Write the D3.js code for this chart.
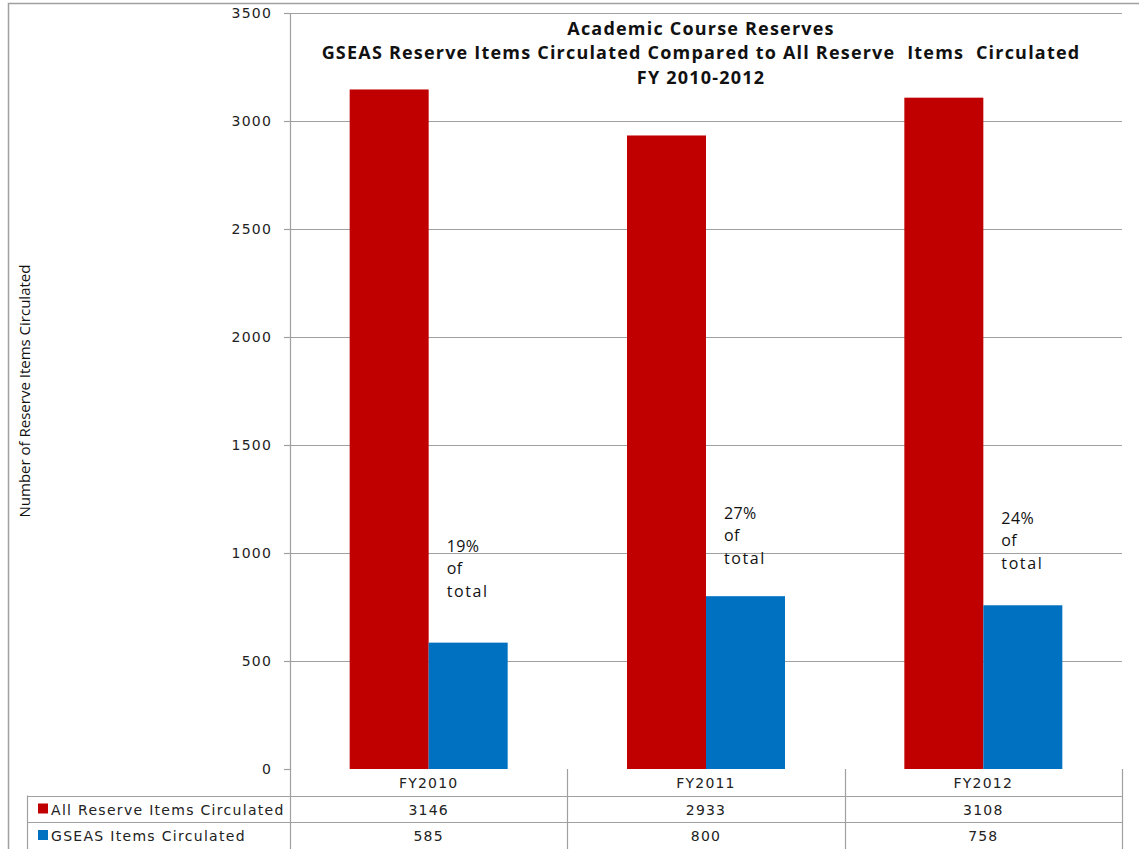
<!DOCTYPE html>
<html>
<head>
<meta charset="utf-8">
<script src="https://cdn.jsdelivr.net/npm/d3@7"></script>
<style>
  body { margin: 0; background: #fff; }
  svg { display: block; }
</style>
</head>
<body>
<div id="container"></div>
<script>
const years = ['FY2010', 'FY2011', 'FY2012'];
const allItems = [3146, 2933, 3108];
const gseasItems = [585, 800, 758];
const seriesNames = ['All Reserve Items Circulated', 'GSEAS Items Circulated'];
const seriesColors = ['#c00000', '#0070c0'];
const yTicks = [0, 500, 1000, 1500, 2000, 2500, 3000, 3500];
const titleLines = [
    'Academic Course Reserves',
    'GSEAS Reserve Items Circulated Compared to All Reserve  Items  Circulated',
    'FY 2010-2012'
];
// where the "% of total" notes sit, in axis units
const noteLevels = [1075, 1228, 1205];

const width = 1139;
const height = 849;
const plot = { left: 290, right: 1122, top: 13, bottom: 769 };
const rowH = 26.5;
const grey = '#a0a0a0';
const tickFont = '"DejaVu Sans", Verdana, sans-serif';
const narrowFont = '"Liberation Sans Narrow", "Open Sans", sans-serif';

const svg = d3.select('#container').append('svg')
    .attr('width', width)
    .attr('height', height);

const x = d3.scaleBand()
    .domain(years)
    .range([plot.left, plot.right]);

const y = d3.scaleLinear()
    .domain([0, 3500])
    .range([plot.bottom, plot.top]);

const barW = 79;

// outer frame
svg.append('path')
    .attr('d', `M8.5,${height}V3.5H${width}`)
    .attr('fill', 'none')
    .attr('stroke', grey)
    .attr('stroke-width', 1.5);

// gridlines
svg.append('g')
    .selectAll('line')
    .data(yTicks.filter(d => d > 0))
    .enter().append('line')
    .attr('x1', plot.left)
    .attr('x2', plot.right)
    .attr('y1', d => Math.round(y(d)) + 0.5)
    .attr('y2', d => Math.round(y(d)) + 0.5)
    .attr('stroke', grey)
    .attr('stroke-width', 1.2);

// y axis
const yAxis = svg.append('g')
    .attr('transform', `translate(${plot.left},0)`)
    .call(d3.axisLeft(y).tickValues(yTicks).tickFormat(d3.format('d')).tickSize(6).tickPadding(12));
yAxis.select('.domain').attr('stroke', grey).attr('stroke-width', 1.2);
yAxis.selectAll('.tick line').attr('stroke', grey).attr('stroke-width', 1.2);
yAxis.selectAll('.tick text')
    .attr('font-family', tickFont)
    .attr('font-size', 14)
    .attr('letter-spacing', 1.2)
    .attr('fill', '#222');

// y axis title
svg.append('text')
    .attr('transform', `translate(30,${(plot.top + plot.bottom) / 2}) rotate(-90)`)
    .attr('text-anchor', 'middle')
    .attr('font-family', narrowFont)
    .attr('font-size', 15)
    .attr('fill', '#111')
    .text('Number of Reserve Items Circulated');

// bars
const series = [allItems, gseasItems];
series.forEach((values, s) => {
    svg.append('g')
        .selectAll('rect')
        .data(values)
        .enter().append('rect')
        .attr('x', (d, i) => x(years[i]) + x.bandwidth() / 2 - barW + s * barW)
        .attr('y', d => y(d))
        .attr('width', barW)
        .attr('height', d => y(0) - y(d))
        .attr('fill', seriesColors[s]);
});

// percent notes
const notes = svg.append('g')
    .attr('font-family', '"Open Sans", "DejaVu Sans", sans-serif')
    .attr('font-size', 16)
    .attr('fill', '#111');
gseasItems.forEach((v, i) => {
    const pct = Math.round(v / allItems[i] * 100);
    const nx = x(years[i]) + x.bandwidth() / 2 + 18;
    const t = notes.append('text')
        .attr('x', nx)
        .attr('y', y(noteLevels[i]) + 15);
    [`${pct}%`, 'of', 'total'].forEach((line, k) => {
        t.append('tspan')
            .attr('x', nx)
            .attr('dy', k === 0 ? 0 : 22.5)
            .attr('letter-spacing', k === 2 ? 1.6 : 0.4)
            .text(line);
    });
});

// title
const titleX = (plot.left + plot.right) / 2 - 5;
svg.append('text')
    .attr('x', titleX)
    .attr('y', 34.5)
    .attr('text-anchor', 'middle')
    .attr('font-family', '"Open Sans", sans-serif')
    .attr('font-weight', 'bold')
    .attr('font-size', 18)
    .attr('letter-spacing', 1.2)
    .attr('fill', '#111')
    .style('white-space', 'pre')
    .selectAll('tspan')
    .data(titleLines)
    .enter().append('tspan')
    .attr('x', titleX)
    .attr('dy', (d, i) => i === 0 ? 0 : 24.5)
    .text(d => d);

// data table
const table = svg.append('g')
    .attr('stroke', grey)
    .attr('stroke-width', 1.2);
const tableTop = plot.bottom;
const row1 = tableTop + rowH;
const row2 = row1 + rowH;

[row1, row2].forEach(yy => {
    table.append('line')
        .attr('x1', 27).attr('x2', plot.right)
        .attr('y1', Math.round(yy) + 0.5).attr('y2', Math.round(yy) + 0.5);
});
table.append('line')
    .attr('x1', 27.5).attr('x2', 27.5)
    .attr('y1', row1).attr('y2', height);
years.forEach(yr => {
    table.append('line')
        .attr('x1', Math.round(x(yr)) + 0.5).attr('x2', Math.round(x(yr)) + 0.5)
        .attr('y1', tableTop).attr('y2', height);
});
table.append('line')
    .attr('x1', plot.right + 0.5).attr('x2', plot.right + 0.5)
    .attr('y1', tableTop).attr('y2', height);

const cellText = svg.append('g')
    .attr('font-family', tickFont)
    .attr('font-size', 14)
    .attr('letter-spacing', 1.2)
    .attr('fill', '#222');

cellText.selectAll('.yr')
    .data(years)
    .enter().append('text')
    .attr('class', 'yr')
    .attr('x', d => x(d) + x.bandwidth() / 2)
    .attr('y', tableTop + 19)
    .attr('text-anchor', 'middle')
    .text(d => d);

series.forEach((values, s) => {
    const rowY = tableTop + rowH * (s + 1);
    cellText.append('rect')
        .attr('x', 38)
        .attr('y', rowY + 8)
        .attr('width', 10)
        .attr('height', 10)
        .attr('fill', seriesColors[s]);
    cellText.append('text')
        .attr('x', 51)
        .attr('y', rowY + 19)
        .attr('letter-spacing', 1.3)
        .text(seriesNames[s]);
    values.forEach((v, i) => {
        cellText.append('text')
            .attr('x', x(years[i]) + x.bandwidth() / 2)
            .attr('y', rowY + 19)
            .attr('text-anchor', 'middle')
            .text(v);
    });
});
</script>
</body>
</html>
